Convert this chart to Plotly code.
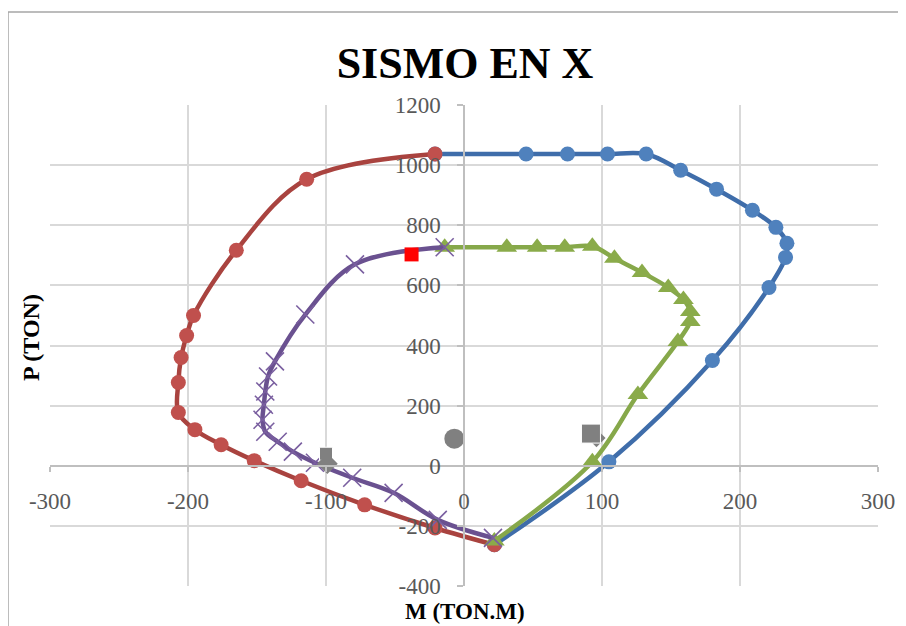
import plotly.graph_objects as go

# ---- data ----
blue_m = [-21, 45, 75, 104, 132, 157, 183, 209, 226, 234, 233, 221, 180, 105, 22]
blue_p = [1037, 1037, 1037, 1037, 1037, 983, 920, 850, 793, 740, 693, 593, 350, 13, -263]

red_m = [-21, -114, -165, -196, -201, -205, -207, -207, -195, -176, -152, -118, -72, -21, 22]
red_p = [1037, 953, 717, 500, 433, 360, 277, 177, 120, 70, 17, -50, -130, -207, -263]

green_m = [-14, 31, 53, 73, 93, 109, 129, 148, 159, 164, 164, 155, 126, 93, 22]
green_p = [727, 727, 727, 727, 730, 690, 643, 593, 553, 513, 480, 413, 237, 13, -250]

purple_m = [-14, -79, -115, -137, -142, -144, -145, -146, -144, -135, -124, -108, -81, -51, -19, 21]
purple_p = [727, 670, 503, 347, 297, 247, 203, 153, 113, 80, 47, 10, -40, -90, -180, -240]

gray_sq_m = [-100, 92]
gray_sq_p = [40, 107]
gray_di_m = [-99, 96]
gray_di_p = [7, 92]
gray_ci_m = [-7]
gray_ci_p = [90]

red_sq_m = [-38]
red_sq_p = [703]

x_ticks = [-300, -200, -100, 0, 100, 200, 300]
y_ticks = [-400, -200, 0, 200, 400, 600, 800, 1000, 1200]

# page body has an 8px margin; the figure is sized so the plot area lands where the reference has it
OFF = 8
W, H = 906 - OFF, 626 - OFF
L, R, T, B = 50 - OFF, 28, 105 - OFF, 40
PW, PH = W - L - R, H - T - B  # 828 x 481


def px_to_paper_x(px):
    return (px - 50) / PW


def px_to_paper_y(py):
    return (586 - py) / PH


fig = go.Figure()


def curve(xs, ys, lc, mc, sym, size, mline=None):
    marker = dict(color=mc, size=size, symbol=sym, opacity=1)
    if mline:
        marker["line"] = mline
    fig.add_trace(go.Scatter(x=xs, y=ys, mode="lines+markers",
                             line=dict(color=lc, width=4.5, shape="spline", smoothing=1.0),
                             marker=marker, showlegend=False))


curve(blue_m, blue_p, "#3f6daa", "#4f81bd", "circle", 15)
curve(red_m, red_p, "#a9433f", "#c0504d", "circle", 15)
curve(green_m, green_p, "#86a84a", "#8aab4a", "triangle-up", 18)
curve(purple_m, purple_p, "#6a5190", "#7a5fa0", "x-thin-open", 18,
      mline=dict(color="#6a5190", width=1.6))


def gray(xs, ys, sym, size):
    fig.add_trace(go.Scatter(x=xs, y=ys, mode="markers",
                             marker=dict(symbol=sym, size=size, color="#808080", opacity=1),
                             showlegend=False))


gray(gray_di_m[1:], gray_di_p[1:], "diamond", 14)   # mostly hidden behind the square
gray(gray_sq_m, gray_sq_p, "square", [13, 19])
gray(gray_di_m[:1], gray_di_p[:1], "diamond", 16)
gray(gray_ci_m, gray_ci_p, "circle", 20)

fig.add_trace(go.Scatter(x=red_sq_m, y=red_sq_p, mode="markers",
                         marker=dict(symbol="square", size=14, color="#ff0000", opacity=1),
                         showlegend=False))

SERIF = "Liberation Serif, DejaVu Serif, serif"
tickfont = dict(family=SERIF, size=23, color="#595959")
fig.update_layout(
    width=W, height=H,
    margin=dict(l=L, r=R, t=T, b=B),
    paper_bgcolor="white", plot_bgcolor="white",
    title=dict(text="<b>SISMO EN X</b>", x=(465 - OFF) / W, xanchor="center",
               y=1 - (63 - OFF) / H, yanchor="middle", yref="container",
               font=dict(family=SERIF, size=44, color="black")),
    xaxis=dict(range=[-300, 300], tickvals=x_ticks, ticktext=[str(v) for v in x_ticks],
               anchor="free", position=0.25, showgrid=True, gridcolor="#d9d9d9", gridwidth=1.5,
               zeroline=False, showline=True, linecolor="#bfbfbf", linewidth=1.5,
               ticks="outside", ticklen=5, tickcolor="#bfbfbf", tickwidth=1.5,
               ticklabelstandoff=10, tickfont=tickfont, fixedrange=True),
    yaxis=dict(range=[-400, 1200], tickvals=y_ticks, ticktext=[str(v) for v in y_ticks],
               anchor="free", position=0.5, showgrid=True, gridcolor="#d9d9d9", gridwidth=1.5,
               zeroline=False, showline=True, linecolor="#bfbfbf", linewidth=1.5,
               ticks="outside", ticklen=6, tickcolor="#bfbfbf", tickwidth=1.5,
               ticklabelstandoff=12, tickfont=tickfont, fixedrange=True),
    annotations=[
        dict(text="<b>P (TON)</b>", xref="paper", yref="paper",
             x=px_to_paper_x(31), y=px_to_paper_y(338), textangle=-90, showarrow=False,
             xanchor="center", yanchor="middle",
             font=dict(family=SERIF, size=24, color="black")),
        dict(text="<b>M (TON.M)</b>", xref="paper", yref="paper",
             x=px_to_paper_x(465), y=px_to_paper_y(611), showarrow=False,
             xanchor="center", yanchor="middle",
             font=dict(family=SERIF, size=23, color="black")),
    ],
    shapes=[
        dict(type="rect", xref="paper", yref="paper",
             x0=px_to_paper_x(8), x1=1.2, y0=-0.2, y1=px_to_paper_y(12),
             line=dict(color="#a6a6a6", width=1.5), fillcolor="rgba(0,0,0,0)", layer="below"),
    ],
)

fig.write_html("out.html")
